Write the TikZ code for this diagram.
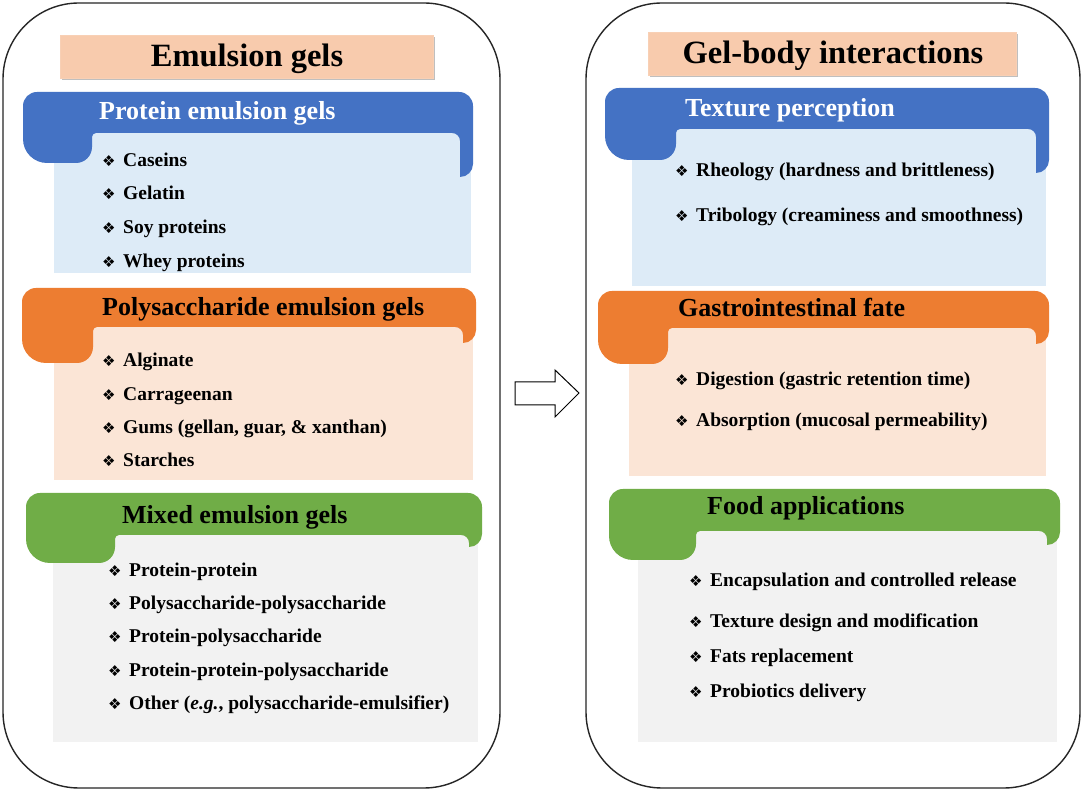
\documentclass[tikz,border=0pt]{standalone}
\usepackage{fontspec}
\setmainfont{Liberation Serif}
\newfontfamily\symfont{DejaVu Sans}
\definecolor{tabblue}{HTML}{4472C4}
\definecolor{bodyblue}{HTML}{DDEBF7}
\definecolor{taborange}{HTML}{ED7D31}
\definecolor{bodyorange}{HTML}{FBE5D6}
\definecolor{tabgreen}{HTML}{70AD47}
\definecolor{bodygray}{HTML}{F2F2F2}
\definecolor{peach}{HTML}{F8CBAD}
\definecolor{peachline}{HTML}{F4B183}
\newcommand{\itemfont}{\fontsize{19.5}{22}\selectfont\bfseries}
\newcommand{\tabfont}{\fontsize{26}{30}\selectfont\bfseries}
\newcommand{\mainfont}{\fontsize{32.5}{36}\selectfont\bfseries}
\newcommand{\bul}{\makebox[21pt][l]{\raisebox{0.5pt}{\symfont\fontsize{15}{15}\selectfont ❖}}}
% #1 colour, #2 left, #3 right, #4 top, #5 band bottom, #6 left-lobe right, #7 left-lobe bottom, #8 right-lobe bottom (pixel rows)
\newcommand{\tabshape}[8]{%
\fill[#1] (#2,{792-#4-14}) arc[start angle=180,end angle=90,radius=14pt]
 -- ({#3-14},{792-#4}) arc[start angle=90,end angle=0,radius=14pt]
 -- (#3,{792-#8+13}) arc[start angle=0,end angle=-90,radius=13pt]
 -- ({#3-13},{792-#5-8}) arc[start angle=0,end angle=90,radius=8pt]
 -- ({#6+4},{792-#5}) arc[start angle=90,end angle=180,radius=4pt]
 -- (#6,{792-#7+16}) arc[start angle=0,end angle=-90,radius=16pt]
 -- ({#2+24},{792-#7}) arc[start angle=270,end angle=180,radius=24pt]
 -- cycle;}
\tikzset{
  outerbox/.style={draw=black!85, line width=1.4pt, rounded corners=76pt},
  titlebox/.style={fill=peach, draw=peachline!60, line width=0.6pt},
  titleshadow/.style={fill=black!25},
  item/.style={anchor=base west, inner sep=0pt, font=\itemfont},
  tabtitle/.style={anchor=base west, inner sep=0pt, font=\tabfont},
  maintitle/.style={anchor=base, inner sep=0pt, font=\mainfont},
  blockarrow/.style={draw=black, line width=1pt, fill=white, line join=miter}
}
\begin{document}
\begin{tikzpicture}[x=1pt,y=1pt]
\useasboundingbox (0,0) rectangle (1084,792);
\fill[white] (0,0) rectangle (1084,792);

% outer frames
\draw[outerbox] (3,789) rectangle (500,4);
\draw[outerbox] (586,789) rectangle (1080,4);

% title boxes
\fill[titleshadow] (62,755) rectangle (435,712);
\draw[titlebox] (60,757) rectangle (433,714);
\node[maintitle] (t1) at (247,725) {Emulsion gels};
\fill[titleshadow] (650,758) rectangle (1018,715);
\draw[titlebox] (648,760) rectangle (1016,717);
\node[maintitle] (t2) at (833,728) {Gel-body interactions};

% ---- left column ----
\fill[bodyblue] (54,519) rectangle (471,664);
\tabshape{tabblue}{23}{473}{92}{133}{92}{163}{177}
\node[tabtitle, text=white] (p0) at (99,672) {Protein emulsion gels};
\node[item] (p1) at (102,625) {\bul Caseins};
\node[item] (p2) at (102,592) {\bul Gelatin};
\node[item] (p3) at (102,558) {\bul Soy proteins};
\node[item] (p4) at (102,524) {\bul Whey proteins};

\fill[bodyorange] (54,312) rectangle (473,470);
\tabshape{taborange}{22}{476}{288}{327}{93}{363}{343}
\node[tabtitle] (q0) at (102,476) {Polysaccharide emulsion gels};
\node[item] (q1) at (102,425) {\bul Alginate};
\node[item] (q2) at (102,391) {\bul Carrageenan};
\node[item] (q3) at (102,358) {\bul Gums (gellan, guar, \& xanthan)};
\node[item] (q4) at (102,325) {\bul Starches};

\fill[bodygray] (53,50) rectangle (478,262);
\tabshape{tabgreen}{26}{482}{493}{535}{115}{563}{547}
\node[tabtitle] (m0) at (122,268) {Mixed emulsion gels};
\node[item] (m1) at (108,215) {\bul Protein-protein};
\node[item] (m2) at (108,182) {\bul Polysaccharide-polysaccharide};
\node[item] (m3) at (108,149) {\bul Protein-polysaccharide};
\node[item] (m4) at (108,115) {\bul Protein-protein-polysaccharide};
\node[item] (m5) at (108,82) {\bul Other (\textit{e.g.}, polysaccharide-emulsifier)};

% ---- arrow ----
\draw[blockarrow] (515,410) -- (555,410) -- (555,422) -- (579,399) -- (555,375) -- (555,387) -- (515,387) -- cycle;

% ---- right column ----
\fill[bodyblue] (632,506) rectangle (1046,668);
\tabshape{tabblue}{605}{1049}{88}{129}{676}{160}{173}
\node[tabtitle, text=white] (r0) at (685,675) {Texture perception};
\node[item] (r1) at (675,615) {\bul Rheology (hardness and brittleness)};
\node[item] (r2) at (675,570) {\bul Tribology (creaminess and smoothness)};

\fill[bodyorange] (629,316) rectangle (1046,469);
\tabshape{taborange}{598}{1049}{291}{328}{668}{364}{344}
\node[tabtitle] (g0) at (678,475) {Gastrointestinal fate};
\node[item] (g1) at (675,406) {\bul Digestion (gastric retention time)};
\node[item] (g2) at (675,365) {\bul Absorption (mucosal permeability)};

\fill[bodygray] (638,50) rectangle (1057,266);
\tabshape{tabgreen}{609}{1060}{489}{531}{696}{560}{545}
\node[tabtitle] (f0) at (707,277) {Food applications};
\node[item] (f1) at (689,205) {\bul Encapsulation and controlled release};
\node[item] (f2) at (689,164) {\bul Texture design and modification};
\node[item] (f3) at (689,129) {\bul Fats replacement};
\node[item] (f4) at (689,94) {\bul Probiotics delivery};
\end{tikzpicture}
\end{document}
